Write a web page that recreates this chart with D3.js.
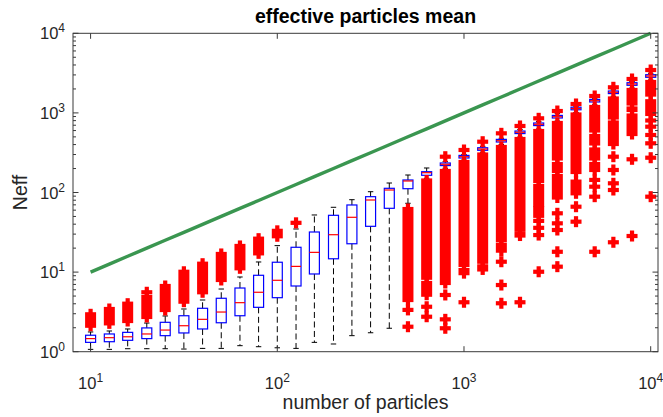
<!DOCTYPE html>
<html>
<head>
<meta charset="utf-8">
<script src="https://cdn.jsdelivr.net/npm/d3@7"></script>
<style>
  html, body { margin: 0; padding: 0; background: #ffffff; }
  svg { display: block; font-family: "Liberation Sans", Arial, Helvetica, sans-serif; }
</style>
</head>
<body>
<svg id="chart" width="663" height="417"></svg>
<script>
// Number of particles for each run (box positions)
const particles = [10, 12.6, 15.8, 20, 25.1, 31.6, 39.8, 50.1, 63.1, 79.4,
  100, 126, 158, 200, 251, 316, 398, 501, 631, 794,
  1000, 1259, 1585, 1995, 2512, 3162, 3981, 5012, 6310, 7943, 10000];

// Upper bound: effective particles can never exceed the particle count
const idealNeff = [10, 12.6, 15.8, 20, 25.1, 31.6, 39.8, 50.1, 63.1, 79.4,
  100, 126, 158, 200, 251, 316, 398, 501, 631, 794,
  1000, 1259, 1585, 1995, 2512, 3162, 3981, 5012, 6310, 7943, 10000];

// Box statistics of the effective particle count
const whiskerLow = [1.07, 1.07, 1.09, 1.09, 1.09, 1.08, 1.10, 1.10, 1.19, 1.155,
  1.12, 1.10, 1.31, 1.25, 1.59, 1.73, 1.97, 73.2, 150.8, 201.4,
  256, 320, 401, 498, 628, 791, 1012, 1264, 1616, 2055, 2590];
const q1 = [1.31, 1.335, 1.39, 1.46, 1.59, 1.72, 1.93, 2.31, 2.83, 3.61,
  4.77, 6.69, 9.47, 14.7, 22.7, 37.6, 63.3, 111.6, 164.5, 217.8,
  271.3, 339, 431, 550, 693, 863, 1094, 1371, 1748, 2222, 2801];
const median = [1.46, 1.50, 1.54, 1.67, 1.87, 2.12, 2.55, 3.15, 4.13, 5.58,
  7.89, 11.8, 17.7, 29.5, 48.8, 80.5, 107.5, 139.5, 177.3, 226.2,
  281.7, 352, 447.5, 571, 719, 896, 1136, 1423, 1815, 2308, 2908];
const q3 = [1.61, 1.67, 1.75, 1.99, 2.34, 2.83, 3.51, 4.69, 6.31, 9.12,
  13.3, 20.5, 31.9, 51.7, 69.7, 88.6, 112.9, 143.6, 182.5, 234.8,
  292.5, 365, 465, 592, 747, 930, 1179, 1478, 1884, 2395, 3019];
const whiskerHigh = [1.77, 1.82, 1.93, 2.29, 2.81, 3.44, 4.46, 6.13, 8.68, 13.4,
  21.5, 34.8, 52.2, 65.2, 81.2, 102.3, 131.6, 165.9, 203.2, 244,
  300, 380, 480, 620, 778, 988, 1211, 1525, 1951, 2480, 3144];

// Outliers: each entry is a run [low, high] of tightly packed outliers
// (a lone outlier has low === high)
const outlierRuns = [
  [[2.12, 2.95]],
  [[2.27, 3.44]],
  [[2.43, 4.01]],
  [[2.73, 4.86], [5.58, 5.58]],
  [[3.34, 6.69]],
  [[4.25, 10.1]],
  [[5.58, 12.75]],
  [[7.96, 16.9]],
  [[11.16, 21.3]],
  [[17.2, 26.3]],
  [[28.2, 33.0]],
  [[41.6, 41.6]],
  [], [], [], [], [],
  [[4.46, 62], [3.35, 3.35], [2.06, 2.06]],
  [[8.5, 141.5], [5.2, 7.3], [3.67, 3.67], [2.75, 2.75]],
  [[7.3, 186.3], [5.16, 5.16], [2.55, 2.55], [1.97, 1.97], [281.7, 281.7]],
  [[12.3, 241.6], [9.7, 10.6], [4.18, 4.18], [342, 342]],
  [[13.5, 300], [10.8, 11.8], [434.6, 434.6]],
  [[25.3, 373], [18.6, 22.1], [13.5, 13.5], [6.88, 6.88], [4.06, 4.06], [554, 554]],
  [[34, 470], [28.8, 30], [4.18, 4.18], [685, 685]],
  [[139.5, 592], [69.7, 120.7], [51, 63], [44, 44], [36, 36], [29.2, 29.2], [10.1, 10.1], [855, 855]],
  [[267.5, 747], [186.3, 228], [86.5, 161], [54.8, 54.8], [41, 41], [33.8, 33.8], [18, 18], [11.7, 11.7], [1056, 1056]],
  [[181, 955], [97.7, 137], [66.3, 66.3], [43, 43], [1294, 1294]],
  [[601, 1186], [413, 513], [267.5, 347], [191.8, 228], [143.8, 143.8], [118.3, 118.3], [88.6, 88.6], [18, 18], [1631, 1631]],
  [[875.5, 1517], [406.8, 757.5], [281.7, 281.7], [191.8, 191.8], [130.5, 130.5], [107.5, 107.5], [23.7, 23.7], [2097, 2097]],
  [[1313, 1940], [1088, 1136], [543, 927], [261.3, 261.3], [28.4, 28.4], [2667, 2667]],
  [[1700, 2444], [970, 1400], [803, 803], [671, 671], [528, 528], [415, 415], [273.6, 273.6], [88.6, 88.6], [3458, 3458]]
];

const xTicks = [10, 100, 1000, 10000];
const yTicks = [1, 10, 100, 1000, 10000];
const titleText = "effective particles mean";
const xLabel = "number of particles";
const yLabel = "Neff";

// ---- layout ----
const svg = d3.select("#chart");
const plot = { left: 73, right: 658, top: 33.3, bottom: 351.7 };

const x = d3.scaleLog().domain([8.05, 10942]).range([plot.left, plot.right]);
const y = d3.scaleLog().domain([1, 10000]).range([plot.bottom, plot.top]);

const axisColor = "#3a3a3a";
const textColor = "#262626";
const boxHalf = 5;
const capHalf = 2.7;
const plusHalf = 5.5;
const armHalf = 2.1;

// ---- reference line ----
svg.append("path")
  .datum(particles.map((p, i) => [p, idealNeff[i]]))
  .attr("fill", "none")
  .attr("stroke", "rgb(58,150,80)")
  .attr("stroke-width", 3.4)
  .attr("stroke-linejoin", "round")
  .attr("d", d3.line().x(d => x(d[0])).y(d => y(d[1])));

// ---- boxplots ----
const boxes = particles.map((p, i) => ({
  p, lo: whiskerLow[i], q1: q1[i], med: median[i], q3: q3[i], hi: whiskerHigh[i], runs: outlierRuns[i]
}));

const g = svg.append("g");

// whiskers
g.selectAll("line.whisker-lo").data(boxes).join("line")
  .attr("x1", d => x(d.p)).attr("x2", d => x(d.p))
  .attr("y1", d => y(d.q1)).attr("y2", d => y(d.lo))
  .attr("stroke", "#000").attr("stroke-width", 1).attr("stroke-dasharray", "6,3.5");
g.selectAll("line.whisker-hi").data(boxes).join("line")
  .attr("x1", d => x(d.p)).attr("x2", d => x(d.p))
  .attr("y1", d => y(d.q3)).attr("y2", d => y(d.hi))
  .attr("stroke", "#000").attr("stroke-width", 1).attr("stroke-dasharray", "6,3.5");
// caps
["lo", "hi"].forEach(k => {
  g.selectAll("line.cap-" + k).data(boxes).join("line")
    .attr("x1", d => x(d.p) - capHalf).attr("x2", d => x(d.p) + capHalf)
    .attr("y1", d => y(d[k])).attr("y2", d => y(d[k]))
    .attr("stroke", "#000").attr("stroke-width", 1);
});
// boxes
g.selectAll("rect.box").data(boxes).join("rect")
  .attr("x", d => x(d.p) - boxHalf)
  .attr("y", d => y(d.q3))
  .attr("width", boxHalf * 2)
  .attr("height", d => Math.max(0.5, y(d.q1) - y(d.q3)))
  .attr("fill", "none").attr("stroke", "#0000ff").attr("stroke-width", 1.2);
// medians
g.selectAll("line.median").data(boxes).join("line")
  .attr("x1", d => x(d.p) - boxHalf).attr("x2", d => x(d.p) + boxHalf)
  .attr("y1", d => y(d.med)).attr("y2", d => y(d.med))
  .attr("stroke", "#ff0000").attr("stroke-width", 1.2);

// outliers drawn as '+' markers; packed runs merge into columns
const runData = [];
boxes.forEach(b => b.runs.forEach(r => runData.push({ p: b.p, lo: r[0], hi: r[1] })));
const og = svg.append("g").attr("fill", "#ff0000");
og.selectAll("rect.arm-h").data(runData).join("rect")
  .attr("x", d => x(d.p) - plusHalf)
  .attr("y", d => y(d.hi) - armHalf)
  .attr("width", plusHalf * 2)
  .attr("height", d => y(d.lo) - y(d.hi) + armHalf * 2);
og.selectAll("rect.arm-v").data(runData).join("rect")
  .attr("x", d => x(d.p) - armHalf)
  .attr("y", d => y(d.hi) - plusHalf)
  .attr("width", armHalf * 2)
  .attr("height", d => y(d.lo) - y(d.hi) + plusHalf * 2);

// ---- axes frame and ticks ----
const ax = svg.append("g").attr("stroke", axisColor).attr("stroke-width", 1).attr("fill", "none");
ax.append("rect")
  .attr("x", plot.left).attr("y", plot.top)
  .attr("width", plot.right - plot.left).attr("height", plot.bottom - plot.top);

const majorLen = 5.5, minorLen = 3;
xTicks.forEach(t => {
  const px = x(t);
  ax.append("line").attr("x1", px).attr("x2", px).attr("y1", plot.bottom).attr("y2", plot.bottom - majorLen);
  ax.append("line").attr("x1", px).attr("x2", px).attr("y1", plot.top).attr("y2", plot.top + majorLen);
});
yTicks.forEach((t, i) => {
  const py = y(t);
  ax.append("line").attr("x1", plot.left).attr("x2", plot.left + majorLen).attr("y1", py).attr("y2", py);
  ax.append("line").attr("x1", plot.right).attr("x2", plot.right - majorLen).attr("y1", py).attr("y2", py);
  if (i < yTicks.length - 1) {
    for (let m = 2; m <= 9; m++) {
      const my = y(t * m);
      ax.append("line").attr("x1", plot.left).attr("x2", plot.left + minorLen).attr("y1", my).attr("y2", my);
      ax.append("line").attr("x1", plot.right).attr("x2", plot.right - minorLen).attr("y1", my).attr("y2", my);
    }
  }
});

// ---- tick labels (10 with superscript exponent) ----
function powerLabel(sel, v) {
  const e = Math.round(Math.log10(v));
  sel.append("tspan").text("10");
  sel.append("tspan").attr("dy", -7).attr("font-size", 12).text(String(e));
}
const labels = svg.append("g").attr("fill", textColor).attr("font-size", 16.5);
xTicks.forEach(t => {
  const tx = labels.append("text").attr("x", x(t)).attr("y", 389).attr("text-anchor", "middle");
  powerLabel(tx, t);
});
yTicks.forEach(t => {
  const tx = labels.append("text").attr("x", 65).attr("y", y(t) + 6).attr("text-anchor", "end");
  powerLabel(tx, t);
});

// ---- title and axis labels ----
svg.append("text")
  .attr("x", (plot.left + plot.right) / 2).attr("y", 23)
  .attr("text-anchor", "middle").attr("font-size", 19.5).attr("font-weight", "bold")
  .attr("fill", "#000").text(titleText);
svg.append("text")
  .attr("x", (plot.left + plot.right) / 2).attr("y", 409)
  .attr("text-anchor", "middle").attr("font-size", 19.5)
  .attr("fill", textColor).text(xLabel);
svg.append("text")
  .attr("transform", `translate(27, ${(plot.top + plot.bottom) / 2}) rotate(-90)`)
  .attr("text-anchor", "middle").attr("font-size", 19.5)
  .attr("fill", textColor).text(yLabel);
</script>
</body>
</html>
